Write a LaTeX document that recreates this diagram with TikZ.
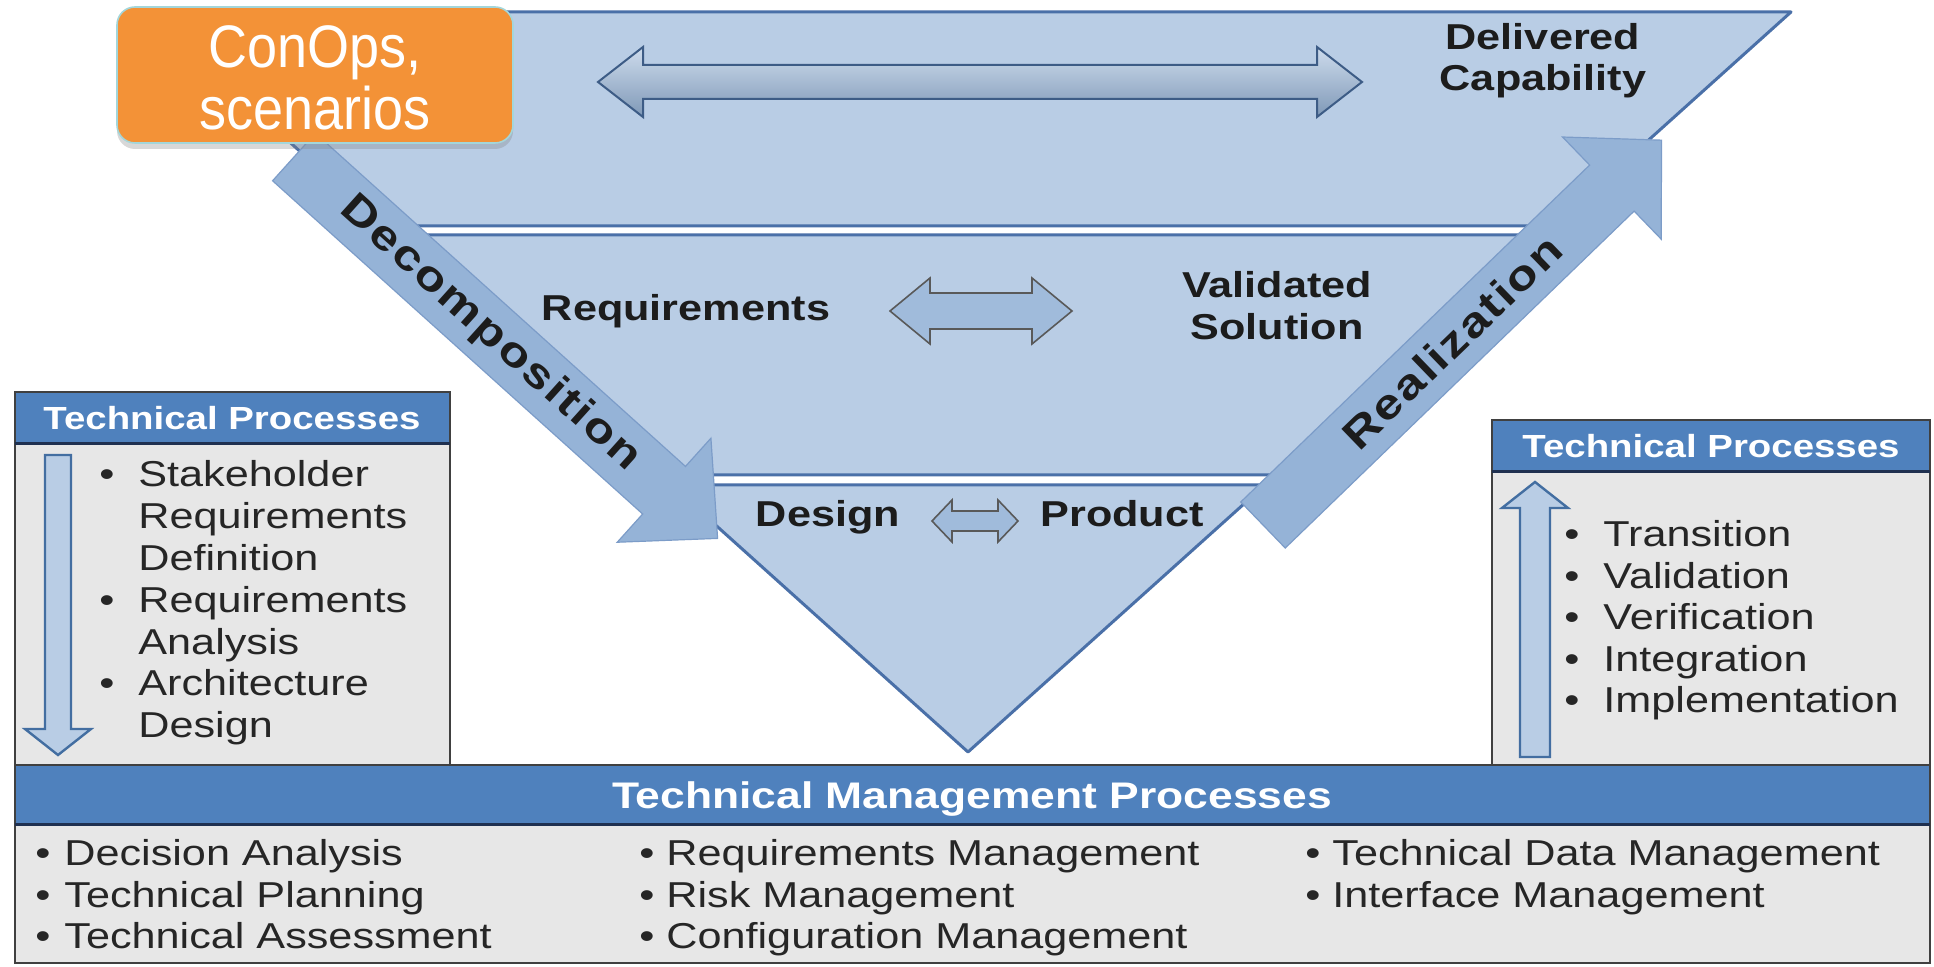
\documentclass[tikz,border=0pt]{standalone}
\usepackage{fontspec}
\usetikzlibrary{shadows}
\newfontfamily\diagfont[FakeStretch=1.2]{Liberation Sans}
\newfontfamily\flowfont[FakeStretch=1.2,LetterSpace=5]{Liberation Sans}
\newfontfamily\opsfont[FakeStretch=0.9]{Liberation Sans}

\definecolor{vfill}{HTML}{B9CDE5}
\definecolor{vline}{HTML}{4A70A8}
\definecolor{bandfill}{HTML}{95B3D7}
\definecolor{bandline}{HTML}{7C9CC8}
\definecolor{hdrblue}{HTML}{4F81BD}
\definecolor{hdrline}{HTML}{1F3050}
\definecolor{bodygray}{HTML}{E7E7E7}
\definecolor{boxline}{HTML}{404040}
\definecolor{opsorange}{HTML}{F39237}
\definecolor{opsedge}{HTML}{A3D6DA}
\definecolor{arrowdark}{HTML}{3D5C86}
\definecolor{inkdark}{HTML}{1C1C1C}

% block arrow: style, start, angle, length, shaft half width, head half width, head length
\newcommand{\blockarrow}[7]{%
  \begin{scope}[shift={#2},rotate=#3]
    \draw[#1] (0,-#5) -- ({#4-#7},-#5) -- ({#4-#7},-#6) -- (#4,0)
      -- ({#4-#7},#6) -- ({#4-#7},#5) -- (0,#5) -- cycle;
  \end{scope}}
% two-headed arrow: style, centre, half length, shaft half width, head half width, head length
\newcommand{\twowayarrow}[6]{%
  \begin{scope}[shift={#2}]
    \draw[#1] (-#3,0) -- ({-#3+#6},-#5) -- ({-#3+#6},-#4) -- ({#3-#6},-#4)
      -- ({#3-#6},-#5) -- (#3,0) -- ({#3-#6},#5) -- ({#3-#6},#4)
      -- ({-#3+#6},#4) -- ({-#3+#6},#5) -- cycle;
  \end{scope}}

\begin{document}
\begin{tikzpicture}[x=0.5pt,y=-0.5pt,
  panel/.style={fill=vfill,draw=vline,line width=1.5pt,line join=round},
  band/.style={fill=bandfill,draw=bandline,line width=0.6pt},
  bigtwo/.style={top color=vfill!70!white,bottom color=bandfill!85!black,draw=arrowdark,line width=1pt},
  smalltwo/.style={fill=bandfill!90!white,draw=black!65,line width=0.8pt},
  listarrow/.style={fill=vfill,draw=hdrblue!85!black,line width=1.2pt},
  lbl/.style={font=\diagfont\bfseries\fontsize{18}{21}\selectfont,text=inkdark,inner sep=0pt},
  flowtxt/.style={font=\flowfont\bfseries\fontsize{21}{24}\selectfont,text=inkdark,inner sep=0pt},
  itemtxt/.style={font=\diagfont\fontsize{18}{21}\selectfont,text=black!85,inner sep=0pt},
  hdrtxt/.style={font=\diagfont\bfseries\fontsize{16}{19}\selectfont,text=white,inner sep=0pt},
  opstxt/.style={font=\opsfont\fontsize{30}{31}\selectfont,text=white,inner sep=0pt},
  opsbox/.style={fill=opsorange,draw=opsedge,line width=0.8pt,rounded corners=9pt,
    drop shadow={opacity=0.3,shadow xshift=0pt,shadow yshift=-3pt}}]

  \fill[white] (0,0) rectangle (1934,967);
  \useasboundingbox (0,0) rectangle (1934,967);

  % the three layers of the triangle
  \draw[panel] (145,12) -- (1791,12) -- (1553,226) -- (383,226) -- cycle;
  \draw[panel] (393,235) -- (1543,235) -- (1276,475) -- (660,475) -- cycle;
  \draw[panel] (671,485) -- (1265,485) -- (968,752) -- cycle;

  % arrows between the pairs
  \twowayarrow{bigtwo}{(980,82)}{382}{17}{35}{45}
  \twowayarrow{smalltwo}{(981,311)}{91}{18}{33}{40}
  \twowayarrow{smalltwo}{(975,521)}{43}{10}{21}{20}

  \node[lbl,anchor=base] (deliv) at (1543,50) {Delivered};
  \node[lbl,anchor=base] (capab) at (1543,91) {Capability};
  \node[lbl,anchor=base] (reqs) at (686,321) {Requirements};
  \node[lbl,anchor=base] (valid) at (1277,298) {Validated};
  \node[lbl,anchor=base] (solut) at (1277,340) {Solution};
  \node[lbl,anchor=base] (design) at (828,527) {Design};
  \node[lbl,anchor=base] (prod) at (1122,527) {Product};

  % down and up legs
  \blockarrow{band}{(294,157)}{-42}{570}{32}{70}{72}
  \blockarrow{band}{(1263,525)}{44}{554}{32}{71}{69}
  \node[flowtxt,rotate=-42] (decomp) at (490,334) {Decomposition};
  \node[flowtxt,rotate=44] (realiz) at (1452,342) {Realization};

  % ConOps box
  \draw[opsbox] (117,7) rectangle (513,143);
  \node[opstxt,anchor=base] (conops) at (315,68) {ConOps,};
  \node[opstxt,anchor=base] (scen) at (315,130) {scenarios};

  % left technical processes
  \draw[boxline,fill=bodygray,line width=1pt] (15,444) rectangle (450,765);
  \draw[boxline,fill=hdrblue,line width=1pt] (15,392) rectangle (450,444);
  \draw[hdrline,line width=1.5pt] (15,444) -- (450,444);
  \node[hdrtxt] (lhdr) at (232,418) {Technical Processes};
  \blockarrow{listarrow}{(58,455)}{-90}{300}{13}{33}{26}
  \foreach \hasdot/\word [count=\i from 0] in {1/Stakeholder,0/Requirements,0/Definition,
      1/Requirements,0/Analysis,1/Architecture,0/Design} {
    \node[itemtxt,anchor=base west] (lt\i) at (138,{487+41.8*\i}) {\word};
    \ifnum\hasdot=1
      \node[itemtxt,anchor=base] (lb\i) at (107,{487+41.8*\i}) {\textbullet};
    \fi
  }

  % right technical processes
  \draw[boxline,fill=bodygray,line width=1pt] (1492,472) rectangle (1930,765);
  \draw[boxline,fill=hdrblue,line width=1pt] (1492,420) rectangle (1930,472);
  \draw[hdrline,line width=1.5pt] (1492,472) -- (1930,472);
  \node[hdrtxt] (rhdr) at (1711,446) {Technical Processes};
  \blockarrow{listarrow}{(1535,757)}{90}{275}{15}{33}{26}
  \foreach \word [count=\i from 0] in {Transition,Validation,Verification,Integration,Implementation} {
    \node[itemtxt,anchor=base] (rb\i) at (1572,{547+41.5*\i}) {\textbullet};
    \node[itemtxt,anchor=base west] (rt\i) at (1603,{547+41.5*\i}) {\word};
  }

  % technical management processes
  \draw[boxline,fill=bodygray,line width=1pt] (15,824) rectangle (1930,963);
  \draw[boxline,fill=hdrblue,line width=1pt] (15,765) rectangle (1930,824);
  \draw[hdrline,line width=1.5pt] (15,824) -- (1930,824);
  \node[lbl,text=white,font=\diagfont\bfseries\fontsize{18.5}{21}\selectfont,anchor=base]
    (mhdr) at (972,808) {Technical Management Processes};
  \foreach \bx/\tx/\ty/\word [count=\i] in {43/64/865/Decision Analysis,
      43/64/907/Technical Planning, 43/64/948/Technical Assessment,
      647/666/865/Requirements Management, 647/666/907/Risk Management,
      647/666/948/Configuration Management, 1313/1332/865/Technical Data Management,
      1313/1332/907/Interface Management} {
    \node[itemtxt,anchor=base] (mb\i) at (\bx,\ty) {\textbullet};
    \node[itemtxt,anchor=base west] (mt\i) at (\tx,\ty) {\word};
  }
\end{tikzpicture}
\end{document}
